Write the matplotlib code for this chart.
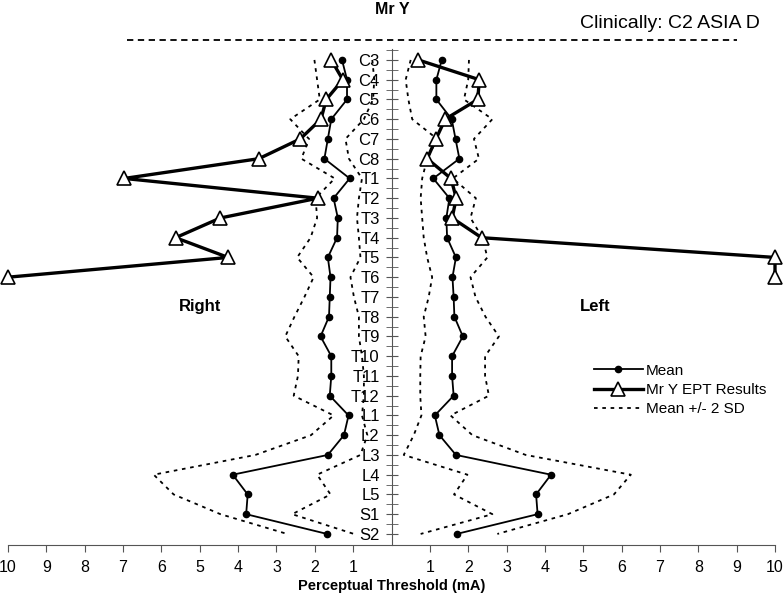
import matplotlib
matplotlib.use("Agg")
import matplotlib.pyplot as plt
from matplotlib.lines import Line2D

plt.rcParams["font.family"] = ["Liberation Sans", "DejaVu Sans"]

# spinal levels, top to bottom
levels = ["C3", "C4", "C5", "C6", "C7", "C8",
          "T1", "T2", "T3", "T4", "T5", "T6", "T7", "T8", "T9", "T10", "T11", "T12",
          "L1", "L2", "L3", "L4", "L5", "S1", "S2"]

# normative mean (mA)
mean_right = [1.29, 1.16, 1.16, 1.57, 1.66, 1.75, 1.09, 1.51, 1.40, 1.42, 1.66, 1.59, 1.61,
              1.63, 1.85, 1.57, 1.57, 1.61, 1.12, 1.24, 1.66, 4.14, 3.75, 3.79, 1.68]
mean_left = [1.31, 1.17, 1.17, 1.57, 1.67, 1.77, 1.09, 1.51, 1.43, 1.45, 1.68, 1.59, 1.62,
             1.64, 1.86, 1.58, 1.58, 1.62, 1.13, 1.25, 1.68, 4.16, 3.77, 3.81, 1.70]

# mean - 2 SD / mean + 2 SD
low_right = [0.50, 0.45, 0.48, 0.72, 1.20, 1.11, 0.77, 0.85, 0.90, 0.85, 0.81, 1.07, 0.98,
             0.85, 0.85, 0.77, 0.72, 0.72, 0.77, 0.63, 0.81, 1.94, 1.59, 2.59, 0.98]
high_right = [2.01, 1.94, 1.87, 2.64, 2.15, 2.35, 1.48, 1.98, 1.94, 2.11, 2.46, 2.03, 2.27,
              2.53, 2.77, 2.42, 2.44, 2.55, 1.51, 2.10, 3.55, 6.20, 5.68, 4.46, 2.72]
low_left = [0.50, 0.37, 0.44, 0.54, 1.19, 0.93, 0.80, 0.76, 0.80, 0.84, 0.93, 1.06, 0.97,
            0.84, 0.89, 0.76, 0.75, 0.75, 0.78, 0.58, 0.32, 1.98, 1.63, 2.63, 0.76]
high_left = [2.02, 2.00, 1.89, 2.63, 2.15, 2.28, 1.60, 2.20, 2.06, 2.37, 2.50, 2.06, 2.19,
             2.45, 2.80, 2.44, 2.44, 2.54, 1.54, 2.11, 3.50, 6.24, 5.80, 4.60, 2.76]

# Mr Y EPT results, C3 to T6
ept_right = [1.57, 1.27, 1.70, 1.84, 2.38, 3.46, 6.97, 1.92, 4.46, 5.63, 4.26, 10.0]
ept_left = [0.70, 2.29, 2.25, 1.40, 1.16, 0.93, 1.55, 1.69, 1.58, 2.35, 10.0, 10.0]

pos = list(range(len(levels)))
ept_pos = pos[:len(ept_right)]

fig = plt.figure(figsize=(7.84, 6.05), dpi=100)
ax = fig.add_axes([8 / 784, 60 / 605, 767 / 784, 505 / 605])

dot_style = dict(color="black", linewidth=1.3, linestyle=(0, (2, 2.6)))
mean_style = dict(color="black", linewidth=1.3, marker="o", markersize=4.5)
ept_style = dict(color="black", linewidth=2.4, marker="^", markersize=10,
                 markerfacecolor="white", markeredgecolor="black", markeredgewidth=1.2,
                 clip_on=False, zorder=4)

# right side is drawn to the left of the centre line (negative x)
ax.plot([-v for v in low_right], pos, **dot_style)
ax.plot([-v for v in high_right], pos, **dot_style)
ax.plot([-v for v in mean_right], pos, **mean_style)
ax.plot([-v for v in ept_right], ept_pos, **ept_style)

ax.plot(low_left, pos, **dot_style)
ax.plot(high_left, pos, **dot_style)
ax.plot(mean_left, pos, **mean_style)
ax.plot(ept_left, ept_pos, **ept_style)

ax.set_xlim(-10, 10)
ax.set_ylim(len(levels) - 1 + 0.56, -1.01)

# centre axis with level labels
ax.spines["left"].set_position(("data", 0))
ax.spines["left"].set_bounds(len(levels) - 1 + 0.56, -0.55)
ax.spines["left"].set_color("#555555")
ax.spines["right"].set_visible(False)
ax.spines["top"].set_visible(False)
ax.spines["bottom"].set_color("#555555")
ax.set_yticks(pos)
ax.set_yticklabels(levels, fontsize=12)
ax.set_yticks([p + 0.5 for p in pos[:-1]] + [-0.5], minor=True)
ax.tick_params(axis="y", which="both", direction="inout", length=8, color="#555555", pad=4.5)

xt = [v for v in range(-10, 11) if v != 0]
ax.set_xticks(xt)
ax.set_xticklabels([str(abs(v)) for v in xt], fontsize=11.5)
ax.tick_params(axis="x", direction="out", length=5, color="#555555", pad=6)
ax.set_xlabel("Perceptual Threshold (mA)", fontsize=10.5, fontweight="bold", labelpad=3)

ax.text(-5, 12.5, "Right", fontsize=12, fontweight="bold", ha="center", va="center")
ax.text(5.3, 12.5, "Left", fontsize=12, fontweight="bold", ha="center", va="center")

fig.text(0.5, 1 - 9 / 605, "Mr Y", fontsize=11.5, fontweight="bold", ha="center", va="center")
fig.text(760 / 784, 1 - 23 / 605, "Clinically: C2 ASIA D", fontsize=14, ha="right", va="center")
fig.add_artist(Line2D([127 / 784, 737 / 784], [1 - 40 / 605, 1 - 40 / 605],
                      color="black", linewidth=1.3, linestyle=(0, (3.5, 2.5))))

handles = [
    Line2D([], [], **mean_style),
    Line2D([], [], **{k: v for k, v in ept_style.items() if k not in ("clip_on", "zorder")}),
    Line2D([], [], **dot_style),
]
ax.legend(handles, ["Mean", "Mr Y EPT Results", "Mean +/- 2 SD"], loc="upper left",
          bbox_to_anchor=(586 / 784, 1 - 356 / 605), bbox_transform=fig.transFigure,
          frameon=False, fontsize=11, handlelength=3.2, handletextpad=0.2,
          labelspacing=0.35, borderpad=0, numpoints=1)

fig.savefig("out.png", dpi=100)
